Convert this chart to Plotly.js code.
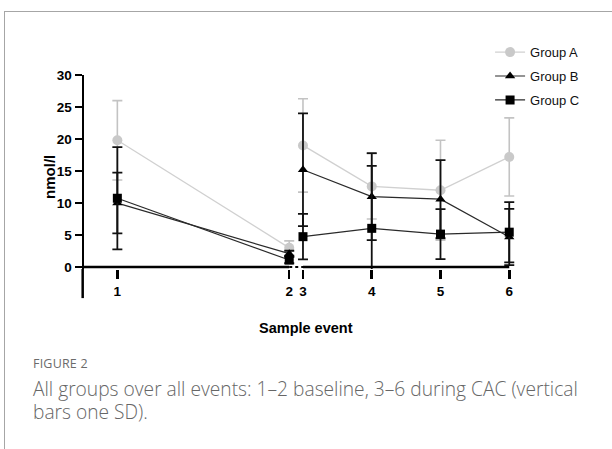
<!DOCTYPE html>
<html>
<head>
<meta charset="utf-8">
<script src="https://cdn.plot.ly/plotly-3.0.1.min.js"></script>
<style>
  html, body { margin: 0; padding: 0; background: #fff; }
  #wrap { position: relative; width: 612px; height: 449px; overflow: hidden; }
  #chart { position: absolute; left: 0; top: 0; width: 612px; height: 449px; }
  #frame { position: absolute; left: 4px; top: 11px; width: 620px; height: 450px;
           border-top: 1.5px solid #a6a6a6; border-left: 1.5px solid #a6a6a6; pointer-events: none; }
  #figlabel { position: absolute; left: 33px; top: 355px; font-family: "Open Sans", sans-serif;
              font-size: 12.5px; color: #6b6b6b; letter-spacing: 0.2px; }
  #caption { position: absolute; left: 33px; top: 377px; width: 572px; font-family: "Open Sans", sans-serif;
             font-size: 19.2px; font-weight: 300; line-height: 23px; color: #666; }
</style>
</head>
<body>
<div id="wrap">
  <div id="chart"></div>
  <div id="frame"></div>
  <div id="figlabel">FIGURE 2</div>
  <div id="caption">All groups over all events: 1–2 baseline, 3–6 during CAC (vertical bars one SD).</div>
</div>
<script>
// ---- data ----
const events = ['1', '2', '3', '4', '5', '6'];
// axis positions of the sample events (baseline 1–2 spaced wider, short break before 3)
const eventPos = [1, 3.5, 3.7, 4.7, 5.7, 6.7];

const groupNames = ['Group A', 'Group B', 'Group C'];
const groupA_mean = [19.8, 3.0, 19.0, 12.6, 12.0, 17.2];
const groupA_sd   = [6.2, 1.1, 7.3, 5.1, 7.8, 6.1];
const groupB_mean = [10.0, 2.1, 15.2, 11.0, 10.6, 4.7];
const groupB_sd   = [4.75, 0.45, 8.8, 6.8, 6.1, 4.4];
const groupC_mean = [10.75, 1.1, 4.75, 6.05, 5.15, 5.45];
const groupC_sd   = [8.0, 0.5, 3.55, 9.75, 3.9, 4.7];

const yTicks = [0, 5, 10, 15, 20, 25, 30];

// ---- layout constants ----
const X_RANGE = [0.515, 6.9];
const Y_RANGE = [-0.3, 30];
const BREAK_AFTER = 1; // index of last baseline event

function withBreak(arr, fill) {
  const out = arr.slice(0, BREAK_AFTER + 1);
  out.push(fill);
  return out.concat(arr.slice(BREAK_AFTER + 1));
}

const styles = [
  {sym: 'circle', size: 10, mcolor: '#c9c9c9', lcolor: '#d0d0d0', lw: 1.3, ecolor: '#c3c3c3', et: 1.6},
  {sym: 'triangle-up', size: 9, mcolor: '#000', lcolor: '#2a2a2a', lw: 1.2, ecolor: '#111', et: 1.8},
  {sym: 'square', size: 9, mcolor: '#000', lcolor: '#2a2a2a', lw: 1.2, ecolor: '#111', et: 1.8}
];
const means = [groupA_mean, groupB_mean, groupC_mean];
const sds = [groupA_sd, groupB_sd, groupC_sd];

const traces = groupNames.map((name, i) => ({
  type: 'scatter',
  mode: 'lines+markers',
  name: name,
  legendgroup: name,
  x: withBreak(eventPos, eventPos[BREAK_AFTER]),
  y: withBreak(means[i], null),
  connectgaps: false,
  cliponaxis: false,
  line: {color: styles[i].lcolor, width: styles[i].lw},
  marker: {symbol: styles[i].sym, size: styles[i].size, color: styles[i].mcolor},
  error_y: {type: 'data', array: withBreak(sds[i], null), visible: true,
            color: styles[i].ecolor, thickness: styles[i].et, width: 5}
}));

const FAM = 'Liberation Sans, Arial, sans-serif';
const tickFont = {family: FAM, size: 13.5, color: '#000', weight: 700};

const layout = {
  width: 612, height: 449,
  margin: {l: 84, r: 89.4, t: 75, b: 180.1, pad: 0},
  paper_bgcolor: 'rgba(0,0,0,0)',
  plot_bgcolor: 'rgba(0,0,0,0)',
  showlegend: true,
  legend: {
    x: 0.925, y: 1.195, xanchor: 'left', yanchor: 'top',
    traceorder: 'grouped', tracegroupgap: 4,
    font: {family: FAM, size: 13, color: '#111'},
    bgcolor: 'rgba(0,0,0,0)', borderwidth: 0
  },
  xaxis: {
    range: X_RANGE, tickmode: 'array', tickvals: eventPos, ticktext: events,
    ticks: 'outside', ticklen: 9, tickwidth: 2.5, tickcolor: '#000',
    showline: false, showgrid: false, zeroline: false,
    tickfont: tickFont, ticklabelstandoff: 1, fixedrange: true
  },
  yaxis: {
    range: Y_RANGE, tickmode: 'array', tickvals: yTicks,
    ticks: 'outside', ticklen: 7, tickwidth: 2.5, tickcolor: '#000',
    showline: true, linewidth: 2.5, linecolor: '#000',
    showgrid: false, zeroline: false,
    tickfont: tickFont, fixedrange: true
  },
  shapes: [
    {type: 'line', xref: 'x', yref: 'y', x0: X_RANGE[0], x1: eventPos[BREAK_AFTER], y0: 0, y1: 0,
     line: {color: '#000', width: 2.5}},
    {type: 'line', xref: 'x', yref: 'y', x0: eventPos[BREAK_AFTER], x1: eventPos[BREAK_AFTER + 1], y0: 0, y1: 0,
     line: {color: '#000', width: 2, dash: 'dot'}},
    {type: 'line', xref: 'x', yref: 'y', x0: eventPos[BREAK_AFTER + 1], x1: eventPos[eventPos.length - 1], y0: 0, y1: 0,
     line: {color: '#000', width: 2.5}},
    {type: 'line', xref: 'paper', yref: 'paper', x0: -0.003, x1: -0.003, y0: 0, y1: -0.15,
     line: {color: '#000', width: 2.5}}
  ],
  annotations: [
    {text: 'nmol/l', xref: 'paper', yref: 'paper', x: -0.08, y: 0.474, textangle: -90,
     showarrow: false, xanchor: 'center', yanchor: 'middle', font: {family: FAM, size: 15, color: '#000', weight: 700}},
    {text: 'Sample event', xref: 'paper', yref: 'paper', x: 0.506, y: -0.305,
     showarrow: false, xanchor: 'center', yanchor: 'middle', font: {family: FAM, size: 14.5, color: '#000', weight: 700}}
  ]
};

Plotly.newPlot('chart', traces, layout, {displayModeBar: false, staticPlot: true});
</script>
</body>
</html>
